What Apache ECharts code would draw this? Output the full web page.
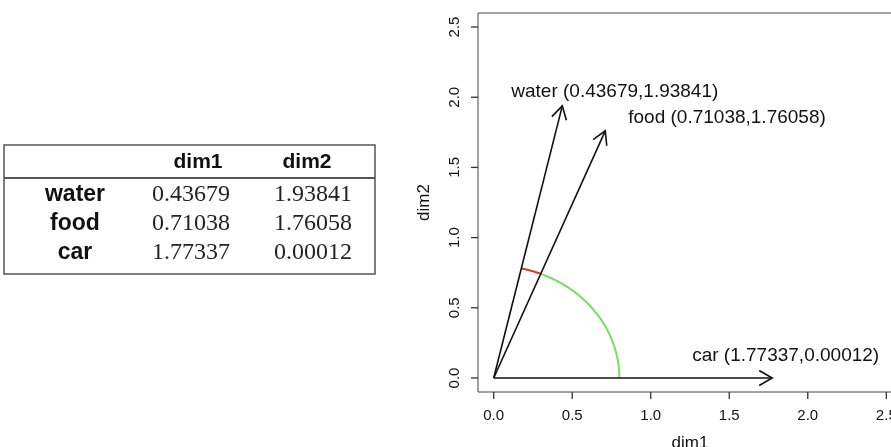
<!DOCTYPE html>
<html lang="en">
<head>
<meta charset="UTF-8">
<script src="https://cdn.jsdelivr.net/npm/echarts@6/dist/echarts.min.js"></script>
<title>dim1 / dim2 vectors</title>
<style>
  html, body { margin: 0; padding: 0; background: #fff; }
  #main { width: 891px; height: 447px; }
</style>
</head>
<body>
<div id="main"></div>
<script>
// data
var names = ['water', 'food', 'car'];
var dim1 = [0.43679, 0.71038, 1.77337];
var dim2 = [1.93841, 1.76058, 0.00012];
var tickValues = [0, 0.5, 1.0, 1.5, 2.0, 2.5];
var arcRadius = 0.8;
// arcs between vectors: [from, to, colour]
var arcs = [['car', 'food', '#74e062'], ['food', 'water', '#d43a30']];

// label offsets from each arrow tip (px)
var labelShift = { water: [-51, -14], food: [23, -13], car: [-80, -22] };

var chart = echarts.init(document.getElementById('main'));

function angleOf(name) {
  var i = names.indexOf(name);
  return Math.atan2(dim2[i], dim1[i]);
}

var vecData = names.map(function (n, i) { return [dim1[i], dim2[i], n]; });
var arcData = arcs.map(function (a) { return [arcRadius, angleOf(a[0]), angleOf(a[1])]; });
var tickData = tickValues.map(function (v) { return [v, v]; });

// table drawn beside the plot
var tbl = [];
var tx = 4, ty = 145, tw = 371, th = 129;
tbl.push({ type: 'rect', shape: { x: tx, y: ty, width: tw, height: th },
  style: { fill: null, stroke: '#555', lineWidth: 1.5 } });
tbl.push({ type: 'line', shape: { x1: tx, y1: 178, x2: tx + tw, y2: 178 },
  style: { stroke: '#555', lineWidth: 2 } });
var headFont = 'bold 21px "Liberation Sans", Arial, sans-serif';
var rowFont = 'bold 23px "Liberation Sans", Arial, sans-serif';
var numFont = '24px "Liberation Serif", "Times New Roman", serif';
tbl.push({ type: 'text', x: 198, y: 162, style: { text: 'dim1', font: headFont, fill: '#111', align: 'center', verticalAlign: 'middle' } });
tbl.push({ type: 'text', x: 307, y: 162, style: { text: 'dim2', font: headFont, fill: '#111', align: 'center', verticalAlign: 'middle' } });
var rowY = [195, 224, 253];
names.forEach(function (n, i) {
  tbl.push({ type: 'text', x: 75, y: rowY[i], style: { text: n, font: rowFont, fill: '#111', align: 'center', verticalAlign: 'middle' } });
  tbl.push({ type: 'text', x: 191, y: rowY[i], style: { text: dim1[i].toFixed(5), font: numFont, fill: '#222', align: 'center', verticalAlign: 'middle' } });
  tbl.push({ type: 'text', x: 313, y: rowY[i], style: { text: dim2[i].toFixed(5), font: numFont, fill: '#222', align: 'center', verticalAlign: 'middle' } });
});

var sans = '"Liberation Sans", Arial, sans-serif';

var option = {
  animation: false,
  backgroundColor: '#fff',
  graphic: tbl,
  grid: { left: 478, top: 13, width: 424, height: 379, containLabel: false, outerBoundsMode: 'none',
    show: true, borderColor: '#444', borderWidth: 1, backgroundColor: 'transparent' },
  xAxis: {
    type: 'value', min: -0.1, max: 2.6,
    name: 'dim1', nameLocation: 'middle', nameGap: 43,
    nameTextStyle: { fontSize: 17, color: '#111', fontFamily: sans },
    axisLine: { show: false, onZero: false },
    splitLine: { show: false },
    axisTick: { show: false },
    axisLabel: { customValues: tickValues, margin: 16, fontSize: 15, color: '#111', fontFamily: sans,
      hideOverlap: false,
      formatter: function (v) { return v.toFixed(1); } }
  },
  yAxis: {
    type: 'value', min: -0.1, max: 2.6,
    name: 'dim2', nameLocation: 'middle', nameGap: 45, nameRotate: 90,
    nameTextStyle: { fontSize: 17, color: '#111', fontFamily: sans },
    axisLine: { show: false, onZero: false },
    splitLine: { show: false },
    axisTick: { show: false },
    axisLabel: { customValues: tickValues, rotate: 90, margin: 16, fontSize: 15, color: '#111', fontFamily: sans,
      formatter: function (v) { return v.toFixed(1); } }
  },
  series: [
    {
      // outward tick marks on the bottom and left frame edges
      type: 'custom',
      data: tickData,
      encode: { x: 0, y: 1 },
      silent: true,
      clip: false,
      renderItem: function (params, api) {
        var cs = params.coordSys;
        var px = api.coord([api.value(0), 0])[0];
        var py = api.coord([0, api.value(1)])[1];
        var bottom = cs.y + cs.height, left = cs.x;
        return {
          type: 'group',
          children: [
            { type: 'line', shape: { x1: px, y1: bottom, x2: px, y2: bottom + 7 }, style: { stroke: '#333', lineWidth: 1.3 } },
            { type: 'line', shape: { x1: left, y1: py, x2: left - 7, y2: py }, style: { stroke: '#333', lineWidth: 1.3 } }
          ]
        };
      }
    },
    {
      type: 'custom',
      data: arcData,
      encode: { x: 0, y: 1 },
      renderItem: function (params, api) {
        var r = api.value(0), a0 = api.value(1), a1 = api.value(2);
        var pts = [];
        var n = 60;
        for (var k = 0; k <= n; k++) {
          var a = a0 + (a1 - a0) * k / n;
          pts.push(api.coord([r * Math.cos(a), r * Math.sin(a)]));
        }
        return { type: 'polyline', shape: { points: pts },
          style: { stroke: arcs[params.dataIndex][2], lineWidth: 2, fill: null } };
      }
    },
    {
      type: 'custom',
      data: vecData,
      encode: { x: 0, y: 1 },
      renderItem: function (params, api) {
        var p0 = api.coord([0, 0]);
        var p1 = api.coord([api.value(0), api.value(1)]);
        var name = names[params.dataIndex];
        var ang = Math.atan2(p1[1] - p0[1], p1[0] - p0[0]);
        var len = 15, spread = Math.PI / 6;
        var h1 = [p1[0] - len * Math.cos(ang - spread), p1[1] - len * Math.sin(ang - spread)];
        var h2 = [p1[0] - len * Math.cos(ang + spread), p1[1] - len * Math.sin(ang + spread)];
        var sh = labelShift[name];
        var label = name + ' (' + dim1[params.dataIndex].toFixed(5) + ',' + dim2[params.dataIndex].toFixed(5) + ')';
        return {
          type: 'group',
          children: [
            { type: 'line', shape: { x1: p0[0], y1: p0[1], x2: p1[0], y2: p1[1] }, style: { stroke: '#111', lineWidth: 1.6 } },
            { type: 'polyline', shape: { points: [h1, p1, h2] }, style: { stroke: '#111', lineWidth: 1.6, fill: null } },
            { type: 'text', x: p1[0] + sh[0], y: p1[1] + sh[1],
              style: { text: label, font: '19px ' + sans, fill: '#111', align: 'left', verticalAlign: 'middle' } }
          ]
        };
      }
    }
  ]
};
chart.setOption(option);
</script>
</body>
</html>
